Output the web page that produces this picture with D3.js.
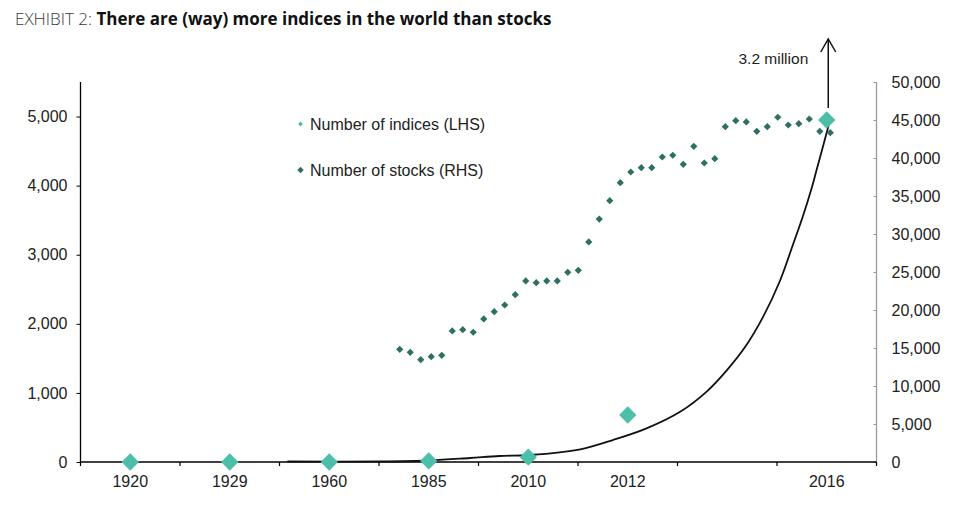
<!DOCTYPE html>
<html>
<head>
<meta charset="utf-8">
<script src="https://cdn.jsdelivr.net/npm/d3@7"></script>
<style>
  html, body { margin: 0; padding: 0; background: #fff; }
  svg { display: block; }
  .lab { font-family: "Liberation Sans", Arial, sans-serif; }
</style>
</head>
<body>
<svg id="chart" width="960" height="517"></svg>
<script>
// ---------- DATA ----------
const categories = ["1920", "1929", "1960", "1985", "2010", "2012", "", "2016"];
const indexValues = [0, 0, 0, 15, 70, 680, null, 4950];           // LHS

const stockYears = d3.range(1975, 2017);                            // hidden secondary x axis
const stockValues = [14830, 14430, 13460, 13860, 14040, 17240, 17410, 17070, 18820, 19780,
                     20660, 22010, 23820, 23590, 23820, 23820, 24960, 25220, 28950, 31970,
                     34380, 36750, 38160, 38720, 38720, 40130, 40360, 39170, 41540, 39340,
                     39910, 44120, 44910, 44740, 43510, 44120, 45360, 44340, 44510, 45130,
                     43510, 43330];                                  // RHS

const curveYears  = [1964.3, 1973.1, 1977.9, 1981.7, 1984.5, 1987.4, 1992.2, 1995.3, 1998.5,
                     2001.7, 2004.2, 2006.1, 2008.0, 2009.6, 2011.2, 2012.5, 2013.4, 2014.2,
                     2014.7, 2015.7, 2016.0];
const curveValues = [7, 7, 22, 58, 87, 101, 184, 318, 487, 727, 1016, 1320, 1690, 2100, 2620,
                     3170, 3560, 3950, 4230, 4790, 4973];           // LHS

const leftTicks  = [0, 1000, 2000, 3000, 4000, 5000];
const rightTicks = d3.range(0, 50001, 5000);
const yearAxisDomain = [1944.6, 2020.4];

const titlePrefix = "EXHIBIT 2: ";
const titleText = "There are (way) more indices in the world than stocks";
const legendLabels = ["Number of indices (LHS)", "Number of stocks (RHS)"];
const annotation = "3.2 million";

// ---------- LAYOUT ----------
const svg = d3.select("#chart");
const margin = { left: 80.5, top: 82, right: 83.5, bottom: 55 };
const W = 960 - margin.left - margin.right;   // 796
const H = 517 - margin.top - margin.bottom;   // 380
const g = svg.append("g").attr("transform", `translate(${margin.left},${margin.top})`);

const colIdx = "#4dbfa9";
const colStk = "#2d6f61";

// scales
const x = d3.scaleBand().domain(d3.range(categories.length)).range([0, W]);
const xYear = d3.scaleLinear().domain(yearAxisDomain).range([0, W]);
const yL = d3.scaleLinear().domain([0, 5500]).range([H, 0]);
const yR = d3.scaleLinear().domain([0, 50000]).range([H, 0]);
const fmt = d3.format(",");

// title
const title = svg.append("text").attr("x", 15).attr("y", 25)
  .style("font-family", "'Open Sans', sans-serif").style("font-size", "17px");
title.append("tspan").text(titlePrefix).attr("fill", "#3a3a3a").style("font-weight", 300);
title.append("tspan").text(titleText).attr("fill", "#111").style("font-weight", 700);

function styleText(sel) {
  sel.attr("class", "lab").style("font-family", "'Liberation Sans', Arial, sans-serif")
     .style("font-size", "16px").attr("fill", "#222");
}

// left axis
const axL = g.append("g").call(d3.axisLeft(yL).tickValues(leftTicks).tickFormat(fmt).tickSize(4).tickPadding(9));
axL.select(".domain").attr("stroke", "#000").attr("stroke-width", 1.3).attr("d", `M0,0V${H}`);
axL.selectAll(".tick line").attr("stroke", "#000");
styleText(axL.selectAll("text"));

// right axis
const axR = g.append("g").attr("transform", `translate(${W},0)`)
  .call(d3.axisRight(yR).tickValues(rightTicks).tickFormat(fmt).tickSize(-3).tickPadding(15));
axR.select(".domain").attr("stroke", "#9a9a9a").attr("stroke-width", 1.3).attr("d", `M0,0V${H}`);
axR.selectAll(".tick line").attr("stroke", "#9a9a9a");
styleText(axR.selectAll("text"));

// bottom axis
const axB = g.append("g").attr("transform", `translate(0,${H})`)
  .call(d3.axisBottom(x).tickFormat(i => categories[i]).tickSize(0).tickPadding(14));
axB.select(".domain").attr("stroke", "#000").attr("stroke-width", 1.3).attr("d", `M0,0H${W}`);
styleText(axB.selectAll("text"));
// boundary ticks
const edges = d3.range(categories.length + 1).map(i => i < categories.length ? x(i) : W);
axB.selectAll(".edge").data(edges).join("line").attr("class", "edge")
  .attr("x1", d => d).attr("x2", d => d).attr("y1", 0).attr("y2", 4)
  .attr("stroke", "#000").attr("stroke-width", 1.2);

// curve (LHS, on hidden year axis)
const curvePts = curveYears.map((yr, i) => [xYear(yr), yL(curveValues[i])]);
g.append("path").datum(curvePts)
  .attr("d", d3.line().curve(d3.curveCatmullRom.alpha(0.5)))
  .attr("fill", "none").attr("stroke", "#111").attr("stroke-width", 1.8);

// stocks (RHS)
const sq = (area) => d3.symbol().type(d3.symbolSquare).size(area)();
g.selectAll(".stk").data(stockYears).join("path").attr("class", "stk")
  .attr("d", sq(26))
  .attr("transform", (d, i) => `translate(${xYear(d)},${yR(stockValues[i])}) rotate(45)`)
  .attr("fill", colStk);

// indices (LHS)
const idxData = categories.map((c, i) => ({ i, v: indexValues[i] })).filter(d => d.v !== null);
g.selectAll(".idx").data(idxData).join("path").attr("class", "idx")
  .attr("d", sq(150))
  .attr("transform", d => `translate(${x(d.i) + x.bandwidth() / 2},${yL(d.v)}) rotate(45)`)
  .attr("fill", colIdx);

// arrow annotation above the 2016 value
const last = idxData[idxData.length - 1];
const ax = x(last.i) + x.bandwidth() / 2 + 1.5;
const aBottom = yL(last.v) - 12;
const aTop = -43;
const arrow = g.append("g").attr("stroke", "#111").attr("stroke-width", 1.5).attr("fill", "none");
arrow.append("line").attr("x1", ax).attr("x2", ax).attr("y1", aBottom).attr("y2", aTop);
arrow.append("path").attr("d", `M${ax - 7.5},${aTop + 13}L${ax},${aTop}L${ax + 7.5},${aTop + 13}`);
const ann = g.append("text").attr("x", ax - 20).attr("y", aTop + 25).attr("text-anchor", "end").text(annotation);
styleText(ann);
ann.style("font-size", "15.5px");

// legend
const leg = g.append("g").attr("transform", `translate(${300.5 - margin.left},${124 - margin.top})`);
const legColors = [colIdx, colStk];
const legSizes = [12, 20];
legendLabels.forEach((lab, i) => {
  const row = leg.append("g").attr("transform", `translate(0,${i * 46})`);
  row.append("path").attr("d", sq(legSizes[i])).attr("transform", "rotate(45)").attr("fill", legColors[i]);
  const t = row.append("text").attr("x", 9.5).attr("y", 0).attr("dy", "0.35em").text(lab);
  styleText(t);
});
</script>
</body>
</html>
